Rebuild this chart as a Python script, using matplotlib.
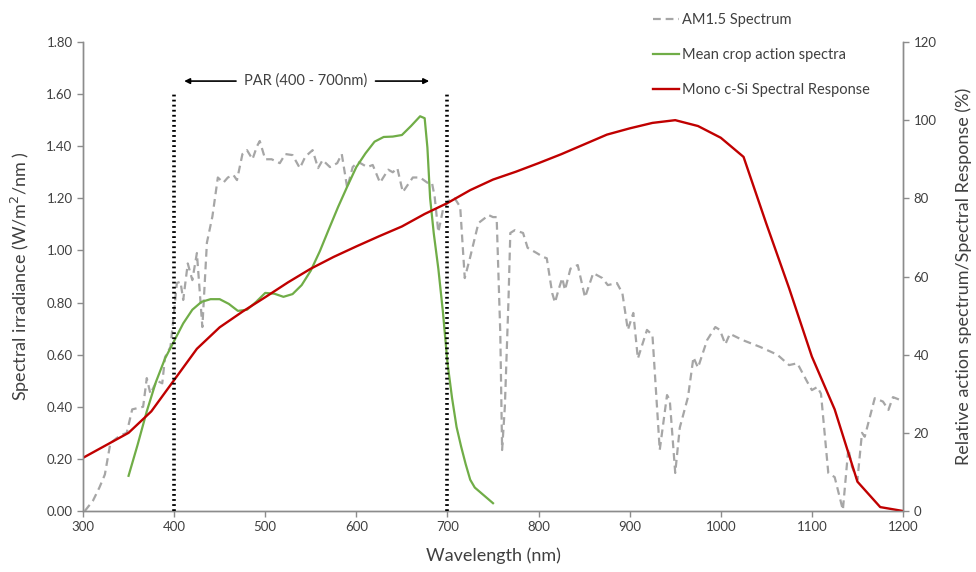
import matplotlib
matplotlib.use("Agg")
import matplotlib.pyplot as plt
from matplotlib.ticker import FormatStrFormatter

plt.rcParams['font.family'] = ['Lato', 'DejaVu Sans']

# AM1.5 spectrum (W/m2/nm)
am_wl = [302, 311, 318, 324, 330, 337, 341, 348, 354, 360, 366, 370, 374, 381, 387, 390, 396, 399,
         403, 407, 410, 415, 420, 425, 431, 436, 442, 448, 454, 459, 465, 469, 475, 480, 486, 491,
         494, 500, 507, 516, 522, 530, 538, 544, 552, 558, 563, 571, 579, 584, 590, 596, 602, 612,
         618, 626, 635, 640, 645, 651, 662, 670, 678, 683, 686, 690, 695, 701, 708, 714, 719, 725,
         734, 741, 745, 750, 754, 758, 760, 763, 767, 769, 774, 783, 788, 798, 805, 809, 815, 818,
         822, 826, 829, 835, 843, 851, 860, 870, 876, 886, 892, 898, 904, 909, 919, 925, 933, 941,
         944, 950, 955, 964, 970, 975, 985, 994, 999, 1005, 1010, 1024, 1043, 1062, 1075, 1084,
         1095, 1100, 1106, 1110, 1118, 1125, 1134, 1140, 1144, 1150, 1155, 1158, 1169, 1178, 1184,
         1189, 1197, 1200]
am_val = [0.00, 0.04, 0.09, 0.14, 0.26, 0.28, 0.29, 0.30, 0.39, 0.395, 0.40, 0.51, 0.45, 0.50, 0.49,
          0.59, 0.63, 0.73, 0.875, 0.88, 0.81, 0.95, 0.886, 0.99, 0.706, 1.03, 1.13, 1.28, 1.26, 1.28,
          1.29, 1.27, 1.37, 1.385, 1.35, 1.40, 1.42, 1.35, 1.35, 1.335, 1.37, 1.366, 1.316, 1.36,
          1.385, 1.316, 1.347, 1.32, 1.335, 1.37, 1.24, 1.32, 1.34, 1.32, 1.328, 1.26, 1.31, 1.30,
          1.316, 1.224, 1.28, 1.28, 1.26, 1.26, 1.205, 1.07, 1.155, 1.19, 1.20, 1.167, 0.894, 0.975,
          1.105, 1.124, 1.136, 1.128, 1.128, 0.683, 0.234, 0.40, 0.81, 1.067, 1.078, 1.067, 1.01,
          0.99, 0.975, 0.97, 0.836, 0.80, 0.85, 0.894, 0.848, 0.93, 0.944, 0.82, 0.913, 0.894, 0.867,
          0.875, 0.836, 0.695, 0.76, 0.585, 0.695, 0.675, 0.234, 0.445, 0.426, 0.146, 0.32, 0.437,
          0.59, 0.55, 0.656, 0.706, 0.695, 0.64, 0.68, 0.656, 0.63, 0.60, 0.56, 0.567, 0.495, 0.464,
          0.476, 0.45, 0.146, 0.13, 0.004, 0.24, 0.17, 0.12, 0.30, 0.285, 0.433, 0.42, 0.388, 0.437,
          0.426, 0.42]

# Mean crop action spectra (%)
crop_wl = [350, 360, 370, 380, 390, 400, 410, 420, 430, 440, 450, 460, 470, 480, 490, 500, 510, 520,
           530, 540, 550, 560, 570, 580, 590, 600, 610, 620, 630, 640, 650, 660, 670, 675, 678, 681,
           685, 690, 695, 700, 705, 710, 715, 720, 725, 730, 740, 750]
crop_val = [9, 17, 25.5, 33, 39, 43.5, 48, 51.5, 53.5, 54.2, 54.2, 53, 51.2, 51.5, 53.5, 55.8, 55.6,
            54.8, 55.5, 57.8, 61.5, 66.5, 72.2, 77.8, 83, 88, 91.5, 94.5, 95.7, 95.8, 96.2, 98.5,
            101, 100.5, 93, 80, 71, 62, 51, 38, 29, 21.5, 16.5, 12, 8, 6, 4, 2]

# Mono c-Si spectral response (%)
si_wl = [300, 350, 375, 400, 425, 450, 475, 500, 525, 550, 575, 600, 625, 650, 675, 700, 725, 750,
         775, 800, 825, 850, 875, 900, 925, 950, 975, 1000, 1025, 1050, 1075, 1100, 1125, 1150,
         1175, 1200]
si_val = [13.6, 20, 25.5, 33.5, 41.5, 47, 51, 54.7, 58.5, 62, 65, 67.7, 70.3, 72.8, 76, 78.8, 82.1,
          84.8, 86.8, 89, 91.3, 93.8, 96.3, 97.9, 99.3, 100, 98.5, 95.5, 90.6, 73.5, 57, 39.5, 26,
          7.5, 1, 0]

par_bounds = [400, 700]
xticks = list(range(300, 1201, 100))

grey_ax = '#8C8C8C'
txt = '#404040'

fig = plt.figure(figsize=(9.76, 5.72), dpi=100)
ax = fig.add_axes([83/976, 1-511/572, 820/976, 469/572])
ax2 = ax.twinx()

l1, = ax.plot(am_wl, am_val, color='#A6A6A6', lw=1.6, ls=(0, (3.5, 2.2)), label='AM1.5 Spectrum')
l2, = ax2.plot(crop_wl, crop_val, color='#70AD47', lw=1.6, label='Mean crop action spectra')
l3, = ax2.plot(si_wl, si_val, color='#C00000', lw=1.7, label='Mono c-Si Spectral Response')

for b in par_bounds:
    ax2.plot([b, b], [0, 1.60 / 1.8 * 120], color='black', lw=2.6, ls=(0, (0.5, 0.9)), zorder=5)

ax.set_xlim(300, 1200)
ax.set_ylim(0, 1.8)
ax2.set_ylim(0, 120)
ax.set_xticks(xticks)
ax.set_yticks([i * 0.2 for i in range(10)])
ax.yaxis.set_major_formatter(FormatStrFormatter('%.2f'))
ax2.set_yticks(range(0, 121, 20))

for a in (ax, ax2):
    a.spines['top'].set_visible(False)
    for s in ('left', 'right', 'bottom'):
        a.spines[s].set_color(grey_ax)
        a.spines[s].set_linewidth(1.0)
    a.tick_params(colors=grey_ax, labelcolor=txt, labelsize=9.5, length=4, width=1.0)

ax.set_xlabel('Wavelength (nm)', fontsize=13, color=txt, labelpad=10)
ax.set_ylabel('Spectral irradiance (W/m$^2$/nm )', fontsize=13, color=txt, labelpad=10)
ax2.set_ylabel('Relative action spectrum/Spectral Response (%)', fontsize=13, color=txt, labelpad=14)

# PAR annotation
ax.annotate('', xy=(408, 1.65), xytext=(471, 1.65),
            arrowprops=dict(arrowstyle='-|>', color='black', lw=1.2, mutation_scale=8))
ax.annotate('', xy=(683, 1.65), xytext=(618, 1.65),
            arrowprops=dict(arrowstyle='-|>', color='black', lw=1.2, mutation_scale=8))
ax.text(544, 1.652, 'PAR (400 - 700nm)', ha='center', va='center', fontsize=10.5, color=txt)

fig.legend(handles=[l1, l2, l3], loc='upper left', bbox_to_anchor=(640/976, 1.0),
           frameon=False, fontsize=10.5, labelcolor=txt, labelspacing=1.45,
           handlelength=1.8, handletextpad=0.2)

fig.savefig('out.png', dpi=100)
